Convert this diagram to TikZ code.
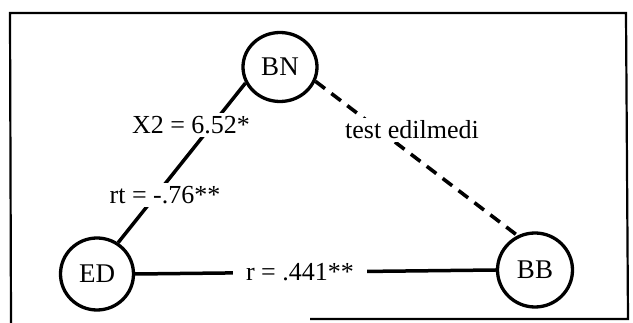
\documentclass[tikz,border=0pt]{standalone}
\usepackage{fontspec}
\setmainfont{Liberation Serif}
\usetikzlibrary{shapes.geometric}
\begin{document}
\begin{tikzpicture}[x=1pt,y=-1pt,
  var/.style={ellipse,draw,line width=3.3pt,inner sep=0pt,font=\fontsize{27}{32}\selectfont},
  lbl/.style={fill=white,inner sep=3pt,font=\fontsize{26}{31}\selectfont},
  link/.style={line width=3.5pt},
  dlink/.style={line width=3.6pt,dash pattern=on 12pt off 8pt}]
\useasboundingbox (0,0) rectangle (633,323);
% frame
\coordinate (f1) at (11,323);
\coordinate (f2) at (10,13);
\coordinate (f3) at (626,13);
\coordinate (f4) at (628,319);
\coordinate (f5) at (310,319);
\draw[line width=2.2pt] (f1) -- (f2) -- (f3) -- (f4) -- (f5);
% variables
\node[var,minimum width=74pt,minimum height=69pt] (BN) at (280,67) {BN};
\node[var,minimum width=73pt,minimum height=72pt] (ED) at (97,274) {ED};
\node[var,minimum width=75pt,minimum height=74pt] (BB) at (535,270) {BB};
% connectors
\draw[link] (BN.205) -- (ED.56);
\draw[dlink] (BN.338) -- (BB.117);
\draw[link] (ED.east) -- (BB.west);
% labels
\node[lbl] (l1) at (191,125) {X2 = 6.52*};
\node[lbl] (l2) at (165,195) {rt = -.76**};
\node[lbl] (l3) at (412,130) {test edilmedi};
\node[lbl,inner xsep=13pt] (l4) at (300,272) {r = .441**};
\end{tikzpicture}
\end{document}
